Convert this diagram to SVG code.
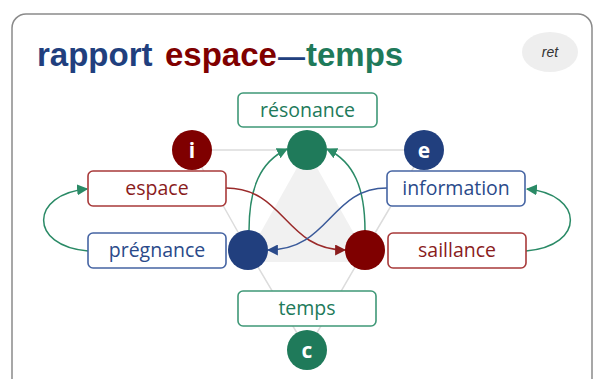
<svg xmlns="http://www.w3.org/2000/svg" width="597" height="379" viewBox="0 0 597 379">
<defs>
<style>
.box{fill:#fff;stroke-width:1.6}
.bl{stroke:#4564a3}.rd{stroke:#a83a3a}.gr{stroke:#3f9877}
.lbl{font-family:"Open Sans","Liberation Sans",sans-serif;font-size:19.5px;text-anchor:middle}
.tb{fill:#2a4a8a}.tr{fill:#8a1c1c}.tg{fill:#217a5a}
.cl{font-family:"Open Sans","Liberation Sans",sans-serif;font-size:21px;font-weight:bold;fill:#fff;text-anchor:middle}
.ttl{font-family:"Liberation Sans",sans-serif;font-size:33px;font-weight:bold}
.con{fill:none;stroke-width:1.5}
</style>
<marker id="ag" viewBox="0 0 10 10" refX="9" refY="5" markerWidth="11" markerHeight="11" markerUnits="userSpaceOnUse" orient="auto"><path d="M0,0L10,5L0,10z" fill="#2a8a66"/></marker>
<marker id="ar" viewBox="0 0 10 10" refX="9" refY="5" markerWidth="11" markerHeight="11" markerUnits="userSpaceOnUse" orient="auto"><path d="M0,0L10,5L0,10z" fill="#8a1c1c"/></marker>
<marker id="ab" viewBox="0 0 10 10" refX="9" refY="5" markerWidth="11" markerHeight="11" markerUnits="userSpaceOnUse" orient="auto"><path d="M0,0L10,5L0,10z" fill="#2a4a8a"/></marker>
</defs>
<rect x="12" y="14" width="580" height="390" rx="14" fill="#fff" stroke="#8a8a8a" stroke-width="1.5"/>
<g id="title">
<text class="ttl" y="66"><tspan x="37" fill="#213f7e">rapport</tspan><tspan x="165" fill="#800000">espace</tspan><tspan x="278" fill="#213f7e" font-size="27">—</tspan><tspan x="306" fill="#1f7a5a">temps</tspan></text>
</g>
<g id="ret">
<ellipse cx="550" cy="52" rx="28" ry="20" fill="#eeeeee"/>
<text x="550" y="57" font-family="'Liberation Sans',sans-serif" font-size="14" font-style="italic" fill="#333" text-anchor="middle">ret</text>
</g>
<g id="background">
<polygon points="307,150 244,262 370,262" fill="#f1f1f1"/>
<polyline points="192,150 424,150 365,250 307,350 248,250 192,150" fill="none" stroke="#dcdcdc" stroke-width="1.5"/>
</g>
<g id="connectors">
<path class="con" d="M249,231 C249,188 260,162 287,149" stroke="#2a8a66" marker-end="url(#ag)"/>
<path class="con" d="M365,231 C365,188 354,162 327,149" stroke="#2a8a66" marker-end="url(#ag)"/>
<path class="con" d="M226,188 C285,188 285,250 345,250" stroke="#9a2a2a" marker-end="url(#ar)"/>
<path class="con" d="M387,188 C330,188 330,250 268,250" stroke="#3a5a9a" marker-end="url(#ab)"/>
<path class="con" d="M88,251 C28,246 30,194 87,189" stroke="#2a8a66" marker-end="url(#ag)"/>
<path class="con" d="M526,251 C586,246 584,194 527,189" stroke="#2a8a66" marker-end="url(#ag)"/>
</g>
<g id="resonance"><rect class="box gr" x="238" y="93" width="139" height="34" rx="5"/><text class="lbl tg" x="307.5" y="117">résonance</text></g>
<g id="espace"><rect class="box rd" x="88" y="171" width="138" height="35" rx="5"/><text class="lbl tr" x="157" y="195">espace</text></g>
<g id="information"><rect class="box bl" x="387" y="171" width="138" height="35" rx="5"/><text class="lbl tb" x="456" y="195">information</text></g>
<g id="pregnance"><rect class="box bl" x="88" y="233" width="138" height="35" rx="5"/><text class="lbl tb" x="157" y="257">prégnance</text></g>
<g id="saillance"><rect class="box rd" x="388" y="233" width="138" height="35" rx="5"/><text class="lbl tr" x="457" y="257">saillance</text></g>
<g id="temps"><rect class="box gr" x="238" y="291" width="138" height="35" rx="5"/><text class="lbl tg" x="307" y="315">temps</text></g>
<g id="node-i"><circle cx="192" cy="150" r="20" fill="#7f0000"/><text class="cl" x="192" y="157.5">i</text></g>
<g id="node-top"><circle cx="307" cy="150" r="20" fill="#1f7a5a"/></g>
<g id="node-e"><circle cx="424" cy="150" r="20" fill="#213f7e"/><text class="cl" x="424" y="157.5">e</text></g>
<g id="node-p"><circle cx="248" cy="250" r="20" fill="#213f7e"/></g>
<g id="node-s"><circle cx="365" cy="250" r="20" fill="#7f0000"/></g>
<g id="node-c"><circle cx="307" cy="350" r="20" fill="#1f7a5a"/><text class="cl" x="307" y="357.5">c</text></g>
</svg>
